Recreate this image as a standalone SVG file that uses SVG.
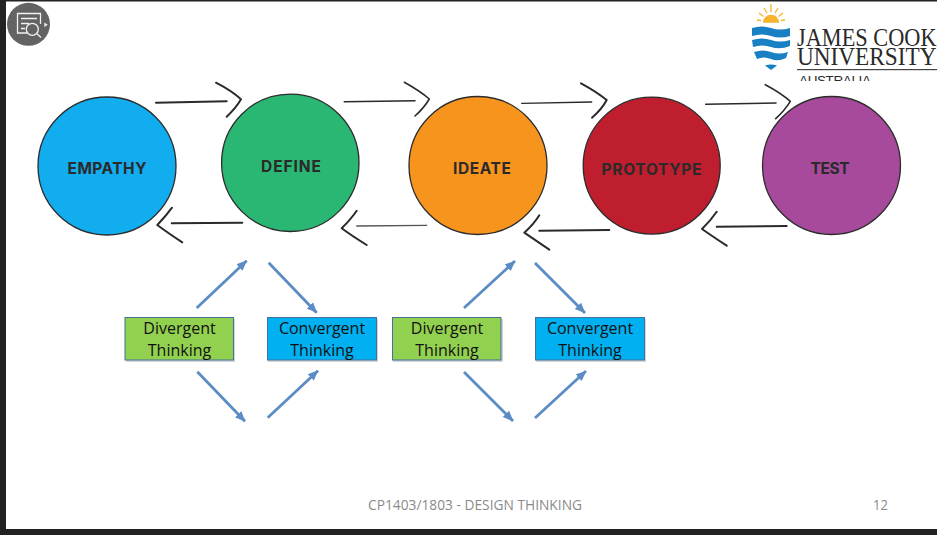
<svg xmlns="http://www.w3.org/2000/svg" width="937" height="535" viewBox="0 0 937 535">
<style>
.node{stroke:#2b2b2b;stroke-width:1.3}
.nl{font-family:"Inter","Liberation Sans",sans-serif;font-weight:700;font-size:15.500px;fill:#2a2a2a;text-anchor:middle}
.box{stroke:#41719C;stroke-width:1}
.shadow{fill:#000;opacity:.16}
.bt{font-family:"Open Sans","Liberation Sans",sans-serif;font-size:16px;fill:#111;text-anchor:middle}
.sk{fill:none;stroke:#2a2a2a;stroke-width:2;stroke-linecap:round;stroke-linejoin:round}
.thin{stroke:#555;stroke-width:1.3}
.bl{stroke:#5B8CC4;stroke-width:2.8;fill:none;marker-end:url(#ah)}
.ft{font-family:"Open Sans","Liberation Sans",sans-serif;font-size:14px;fill:#8a8a8a}
.ls{font-family:"Liberation Serif",serif;font-size:25px;fill:#2a2a2a}
.w{fill:#1a80c4}
.ic{fill:none;stroke:#f2f2f2;stroke-width:1.3}
</style>
<defs>
<marker id="ah" markerUnits="userSpaceOnUse" markerWidth="12" markerHeight="12" refX="10" refY="6" orient="auto"><path d="M0 1.500 L10.500 6 L0 10.500 Z" fill="#5B8CC4"/></marker>
<clipPath id="lc"><rect x="790" y="0" width="147" height="81"/></clipPath>
</defs>
<rect width="937" height="535" fill="#fff"/>
<g id="frame" fill="#222"><rect x="0" y="0" width="6" height="535"/><rect x="0" y="0" width="937" height="1.500"/><rect x="0" y="529" width="937" height="6"/></g>

<g id="viewer-icon">
<circle cx="28.500" cy="24.300" r="21.500" fill="#636363"/>
<path class="ic" d="M27 33H17.500V13.500H40.500V24M21 18.500H37M21 23.500H29M21 28.500H25"/>
<circle class="ic" cx="32.300" cy="29.300" r="6"/>
<path class="ic" d="M36.700 33.500L41 37.500"/>
<path d="M44.300 22.500L47.800 24.700L44.300 27Z" fill="#eee"/>
</g>

<g id="logo">
<path d="M763 22.700A8 8 0 0 1 779 22.700Z" fill="#f6b32b"/>
<path d="M771 4V12M764 8L767 13M778 8L775 13M759 13L763.500 16.500M783 13L778.500 16.500M757 20L761 20.500M785 20L781 20.500" stroke="#f6b32b" stroke-width="1.300" fill="none"/>
<path class="w" d="M752 28Q762 25 771 28T790 28V36Q780 39 771 36T752 36Z"/>
<path class="w" d="M752 40Q762 37 771 40T790 40V46Q780 50 771 47T753 47Z"/>
<path class="w" d="M754 52Q763 49 771 52T788 52L786 58Q778 62 771 59T757 59Z"/>
<path class="w" d="M765 65.500Q771 63.500 777 65.500L771 70Z"/>
<g clip-path="url(#lc)">
<text class="ls" x="797" y="45.500" textLength="139.500" lengthAdjust="spacingAndGlyphs">JAMES COOK</text>
<text class="ls" x="797" y="65" textLength="139.500" lengthAdjust="spacingAndGlyphs">UNIVERSITY</text>
<rect x="797" y="69" width="140" height="1.200" fill="#444"/>
<text x="799" y="85" textLength="72" font-family="Liberation Sans, sans-serif" font-size="13.500px" fill="#2a2a2a">AUSTRALIA</text>
</g>
</g>

<g id="empathy"><circle class="node" cx="107" cy="166" r="69" fill="#12ADEF"/><text class="nl" x="107" y="173.500" textLength="79">EMPATHY</text></g>
<g id="define"><circle class="node" cx="290.300" cy="162.800" r="68.700" fill="#2AB673"/><text class="nl" x="291" y="171.500" textLength="60">DEFINE</text></g>
<g id="ideate"><circle class="node" cx="478" cy="165.500" r="69" fill="#F7941E"/><text class="nl" x="482" y="173.500" textLength="58">IDEATE</text></g>
<g id="prototype"><circle class="node" cx="651.700" cy="165.600" r="68.500" fill="#BE1E2D"/><text class="nl" x="651.500" y="174.500" textLength="100">PROTOTYPE</text></g>
<g id="test"><circle class="node" cx="831.500" cy="165.500" r="69" fill="#A74A9B"/><text class="nl" x="830" y="173.500" textLength="39">TEST</text></g>

<g id="divergent-1"><rect class="shadow" x="126" y="319" width="109" height="43"/><rect class="box" x="125" y="317.500" width="108.500" height="42.500" fill="#92D050"/><text class="bt" x="179.500" y="334">Divergent</text><text class="bt" x="179.500" y="355.500">Thinking</text></g>
<g id="convergent-1"><rect class="shadow" x="268" y="319" width="110" height="43"/><rect class="box" x="267.500" y="317.500" width="109" height="42.500" fill="#00B0F0"/><text class="bt" x="322" y="334">Convergent</text><text class="bt" x="322" y="355.500">Thinking</text></g>
<g id="divergent-2"><rect class="shadow" x="393" y="319" width="110" height="43"/><rect class="box" x="392.500" y="317.500" width="108.500" height="42.500" fill="#92D050"/><text class="bt" x="447" y="334">Divergent</text><text class="bt" x="447" y="355.500">Thinking</text></g>
<g id="convergent-2"><rect class="shadow" x="536" y="319" width="110" height="43"/><rect class="box" x="535.500" y="317.500" width="109" height="42.500" fill="#00B0F0"/><text class="bt" x="590" y="334">Convergent</text><text class="bt" x="590" y="355.500">Thinking</text></g>

<g id="connectors">
<path class="sk" d="M156 102.700L226.700 101.300M216 82.700Q232 91 241 99.300Q236 108 226.700 116.700"/>
<path class="sk" style="stroke-width:1.600" d="M344.300 101.700L415 100.700M404.300 82.300Q420 91 429.300 99Q424 108 415 116"/>
<path class="sk" style="stroke-width:1.300" d="M521.700 103.300L591.700 102"/>
<path class="sk" d="M581 83.300Q597 92 606.700 100Q602 109 592 117.700"/>
<path class="sk" style="stroke-width:1.600" d="M705.700 104.300L776 103M765.300 84.700Q781 93 790.300 101.300Q785 110 775.700 118.700"/>
<path class="sk" d="M171.700 223.300L242.300 222.700M172 207.700Q166 216 157.300 225Q168 233 182.300 242.300"/>
<path class="sk thin" d="M356.700 226L426.700 225.300"/>
<path class="sk" d="M356.700 210.700Q351 219 341.700 228.300Q352 236 366.700 245"/>
<path class="sk" d="M539.300 230.700L609.300 230M539.300 215.300Q534 224 524.300 232.700Q535 240 549.300 249.700"/>
<path class="sk" d="M716.700 226.700L786.700 226M716.700 211.700Q711 220 702 229Q712 236 726.700 245.700"/>
<path class="bl" d="M196.700 308L246.700 260.700"/>
<path class="bl" d="M268.700 262.700L316.700 312.700"/>
<path class="bl" d="M197.300 371.700L245 421.300"/>
<path class="bl" d="M267.700 417.700L318 370.700"/>
<path class="bl" d="M464 308L515 261"/>
<path class="bl" d="M535 263L585 313"/>
<path class="bl" d="M464 372L513 421"/>
<path class="bl" d="M535 418L586 371"/>
</g>

<g id="footer">
<text class="ft" x="368" y="510" textLength="214" lengthAdjust="spacingAndGlyphs">CP1403/1803 - DESIGN THINKING</text>
<text class="ft" x="873" y="510" textLength="15" lengthAdjust="spacingAndGlyphs">12</text>
</g>
</svg>
